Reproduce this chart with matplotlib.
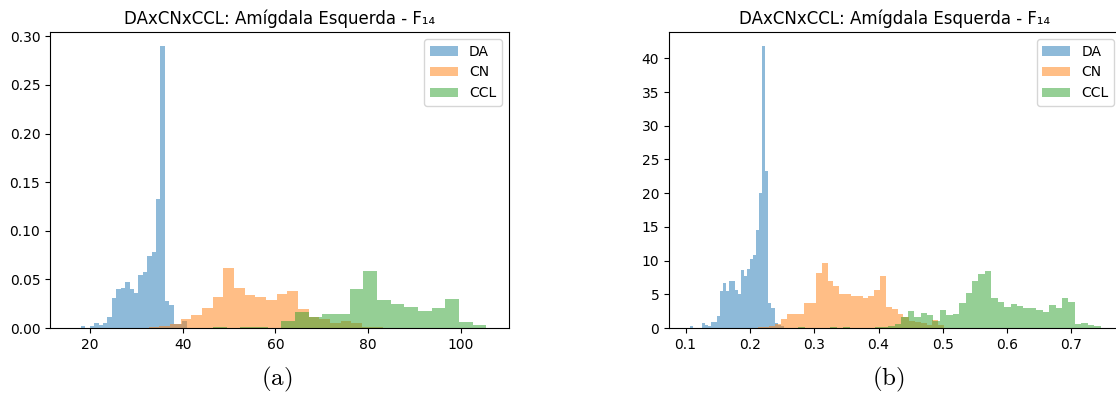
import numpy as np
import matplotlib.pyplot as plt

plt.rcParams['mathtext.fontset'] = 'cm'

title = "DAxCNxCCL: Amígdala Esquerda - F\u2081\u2084"
labels = ["DA", "CN", "CCL"]

# (a) histogram densities: first bin edge, bin width, heights
da_a_start, da_a_width = 18.06, 0.952
da_a = [0.0017, 0.0, 0.0024, 0.0048, 0.0027, 0.0048, 0.011, 0.031, 0.040, 0.041,
        0.047, 0.040, 0.036, 0.055, 0.058, 0.074, 0.078, 0.133, 0.290, 0.028,
        0.024, 0.0045, 0.0045, 0.0072]
cn_a_start, cn_a_width = 28.05, 2.303
cn_a = [0.0005, 0.0005, 0.0007, 0.0017, 0.004, 0.0089, 0.0134, 0.021, 0.032, 0.0616,
        0.0408, 0.034, 0.0315, 0.0288, 0.035, 0.038, 0.020, 0.0116, 0.0092, 0.0053,
        0.0072, 0.0050, 0.0007, 0.0007]
ccl_a_start, ccl_a_width = 46.55, 2.95
ccl_a = [0.0007, 0.0, 0.0007, 0.0007, 0.0, 0.0072, 0.016, 0.0116, 0.0147, 0.0147,
         0.040, 0.0586, 0.0284, 0.0243, 0.0216, 0.0178, 0.0202, 0.0295, 0.0062, 0.0034]

# (b) histogram densities
da_b_start, da_b_width = 0.1062, 0.00472
da_b = [0.3, 0, 0, 0, 0.8, 0.45, 0.25, 0.84, 0.94, 1.83, 5.5, 6.6, 5.5, 7.0, 7.0,
        5.7, 5.0, 8.6, 7.75, 8.7, 10.2, 10.9, 14.5, 20.0, 41.8, 23.3, 3.65, 3.0,
        0.7, 0.5, 0.3]
cn_b_start, cn_b_width = 0.2121, 0.00906
cn_b = [0.2, 0.2, 0.3, 0.6, 1.3, 2.07, 2.07, 2.1, 3.7, 3.65, 8.1, 9.7, 7.0, 6.2,
        5.0, 5.1, 4.8, 4.8, 4.4, 4.7, 5.6, 7.7, 3.06, 2.77, 2.07, 1.6, 1.1, 0.9,
        0.8, 0.5, 1.2, 0.5]
ccl_b_start, ccl_b_width = 0.2753, 0.01
ccl_b = [0.2, 0, 0, 0, 0, 0.15, 0, 0.15, 0, 0, 0, 0, 0.15, 0.1, 0.3, 0.6, 1.6,
         2.5, 1.7, 2.2, 2.0, 1.0, 2.6, 2.0, 2.1, 3.7, 5.2, 7.0, 8.0, 8.4, 4.4, 3.8,
         3.1, 3.6, 3.3, 2.9, 3.0, 2.7, 2.4, 3.4, 2.9, 4.4, 3.85, 0.55, 0.8, 0.5, 0.3]


def draw_hist(ax, start, width, heights, label):
    heights = np.array(heights, dtype=float)
    edges = start + width * np.arange(len(heights) + 1)
    ax.hist(edges[:-1], bins=edges, weights=heights, alpha=0.5, label=label)


W, H = 1116, 417
fig = plt.figure(figsize=(W / 100, H / 100), dpi=100)

# panel (a)
ax1 = fig.add_axes([50 / W, (H - 328) / H, 458.5 / W, 296 / H])
draw_hist(ax1, da_a_start, da_a_width, da_a, labels[0])
draw_hist(ax1, cn_a_start, cn_a_width, cn_a, labels[1])
draw_hist(ax1, ccl_a_start, ccl_a_width, ccl_a, labels[2])
ax1.set_xlim(11.37, 110.3)
ax1.set_ylim(0, 0.3045)
ax1.set_title(title)
ax1.legend(loc="upper right")

# panel (b)
ax2 = fig.add_axes([669 / W, (H - 328) / H, 452 / W, 296 / H])
draw_hist(ax2, da_b_start, da_b_width, da_b, labels[0])
draw_hist(ax2, cn_b_start, cn_b_width, cn_b, labels[1])
draw_hist(ax2, ccl_b_start, ccl_b_width, ccl_b, labels[2])
ax2.set_xlim(0.0743, 0.777)
ax2.set_ylim(0, 43.9)
ax2.set_title(title)
ax2.legend(loc="upper right")

fig.text(277 / W, (H - 379) / H, r"$\mathrm{(a)}$", fontsize=18, ha="center", va="center")
fig.text(888 / W, (H - 379) / H, r"$\mathrm{(b)}$", fontsize=18, ha="center", va="center")

fig.savefig("out.png", dpi=100)
